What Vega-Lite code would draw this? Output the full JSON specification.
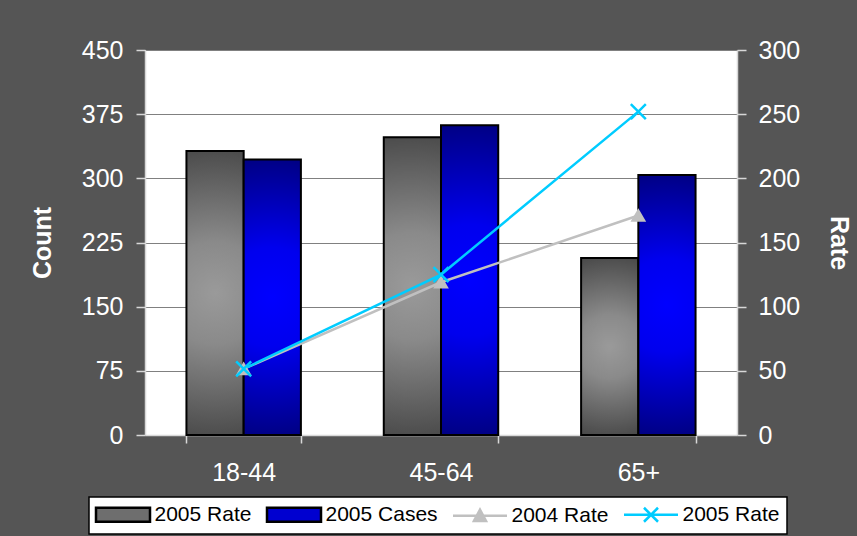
{
  "$schema": "https://vega.github.io/schema/vega-lite/v6.json",
  "width": 592,
  "height": 385,
  "autosize": {"type": "none"},
  "padding": {"left": 145, "top": 50, "right": 120, "bottom": 101},
  "background": "#555555",
  "config": {
    "view": {"stroke": null, "fill": "white"},
    "font": "Liberation Sans",
    "axis": {
      "labelColor": "white",
      "labelFontSize": 25,
      "labelFont": "Liberation Sans",
      "titleColor": "white",
      "titleFontSize": 25,
      "titleFont": "Liberation Sans",
      "titleFontWeight": "bold",
      "domainColor": "#d8d8d8",
      "domainWidth": 1.5,
      "tickColor": "#d8d8d8",
      "tickWidth": 1.5,
      "tickSize": 9
    },
    "legend": {
      "orient": "none",
      "legendX": -56,
      "legendY": 447,
      "direction": "horizontal",
      "columns": 4,
      "fillColor": "white",
      "strokeColor": "black",
      "padding": 7,
      "symbolSize": 196,
      "symbolStrokeWidth": 2.5,
      "symbolOffset": 16.5,
      "labelFont": "Liberation Sans",
      "labelFontSize": 21,
      "labelColor": "black",
      "labelOffset": 21,
      "columnPadding": 10
    }
  },
  "data": {
    "values": [
      {"age": "18-44", "series": "A", "count": 332},
      {"age": "18-44", "series": "B", "count": 322},
      {"age": "45-64", "series": "A", "count": 348},
      {"age": "45-64", "series": "B", "count": 362},
      {"age": "65+", "series": "A", "count": 207},
      {"age": "65+", "series": "B", "count": 304},
      {"age": "18-44", "series": "C", "rate": 51.5},
      {"age": "45-64", "series": "C", "rate": 119},
      {"age": "65+", "series": "C", "rate": 171},
      {"age": "18-44", "series": "D", "rate": 51.5},
      {"age": "45-64", "series": "D", "rate": 125},
      {"age": "65+", "series": "D", "rate": 252}
    ]
  },
  "encoding": {
    "x": {
      "field": "age",
      "type": "nominal",
      "sort": ["18-44", "45-64", "65+"],
      "scale": {"paddingInner": 0.42, "paddingOuter": 0.21},
      "axis": {"title": null, "labelAngle": 0, "tickBand": "extent", "labelPadding": 17, "tickSize": 8}
    }
  },
  "layer": [
    {
      "encoding": {
        "xOffset": {"field": "series", "type": "nominal", "scale": {"domain": ["A", "B"], "paddingInner": 0, "paddingOuter": 0}},
        "y": {
          "field": "count",
          "type": "quantitative",
          "scale": {"domain": [0, 450]},
          "axis": {
            "title": "Count",
            "values": [0, 75, 150, 225, 300, 375, 450],
            "grid": true,
            "gridColor": "#808080",
            "gridWidth": 1.2,
            "labelPadding": 13,
            "titlePadding": 26
          }
        }
      },
      "layer": [
        {
          "transform": [{"filter": "datum.series == 'A'"}],
          "mark": {
            "type": "bar", "stroke": "black", "strokeWidth": 2,
            "color": {"gradient": "radial", "x1": 0.5, "y1": 0.5, "x2": 0.5, "y2": 0.5, "r1": 0, "r2": 0.6,
              "stops": [{"offset": 0, "color": "#9a9a9a"}, {"offset": 0.3, "color": "#8a8a8a"}, {"offset": 1, "color": "#3a3a3a"}]}
          }
        },
        {
          "transform": [{"filter": "datum.series == 'B'"}],
          "mark": {
            "type": "bar", "stroke": "black", "strokeWidth": 2,
            "color": {"gradient": "radial", "x1": 0.5, "y1": 0.5, "x2": 0.5, "y2": 0.5, "r1": 0, "r2": 0.6,
              "stops": [{"offset": 0, "color": "#0000ff"}, {"offset": 0.3, "color": "#0000ee"}, {"offset": 1, "color": "#000066"}]}
          }
        }
      ]
    },
    {
      "transform": [{"filter": "datum.series == 'C' || datum.series == 'D'"}],
      "encoding": {
        "y": {
          "field": "rate",
          "type": "quantitative",
          "scale": {"domain": [0, 300]},
          "axis": {
            "orient": "right",
            "title": "Rate",
            "values": [0, 50, 100, 150, 200, 250, 300],
            "grid": false,
            "labelPadding": 12,
            "titlePadding": 26
          }
        },
        "color": {
          "field": "series",
          "type": "nominal",
          "scale": {"domain": ["A", "B", "C", "D"], "range": ["#6e6e6e", "#0000d0", "#c0c0c0", "#00ccff"]},
          "legend": {
            "title": null,
            "labelExpr": "{'A': '2005 Rate', 'B': '2005 Cases', 'C': '2004 Rate', 'D': '2005 Rate'}[datum.value]",
            "encode": {
              "legend": {"update": {"strokeWidth": {"value": 1.5}}},
              "symbols": {
                "update": {
                  "shape": {"signal": "datum.value == 'C' ? 'M-3.857,0H3.857M-0.86,0.75L0,-0.85L0.86,0.75Z' : datum.value == 'D' ? 'M-3.857,0H3.857M-1,-1L1,1M-1,1L1,-1' : 'M-3.857,-1H3.857V1H-3.857Z'"},
                  "opacity": {"value": 1},
                  "fillOpacity": {"value": 1},
                  "strokeOpacity": {"value": 1}
                }
              }
            }
          }
        },
        "stroke": {
          "field": "series",
          "type": "nominal",
          "scale": {"domain": ["A", "B", "C", "D"], "range": ["black", "black", "#c0c0c0", "#00ccff"]},
          "legend": {
            "title": null,
            "labelExpr": "{'A': '2005 Rate', 'B': '2005 Cases', 'C': '2004 Rate', 'D': '2005 Rate'}[datum.value]",
            "encode": {
              "legend": {"update": {"strokeWidth": {"value": 1.5}}},
              "symbols": {
                "update": {
                  "shape": {"signal": "datum.value == 'C' ? 'M-3.857,0H3.857M-0.86,0.75L0,-0.85L0.86,0.75Z' : datum.value == 'D' ? 'M-3.857,0H3.857M-1,-1L1,1M-1,1L1,-1' : 'M-3.857,-1H3.857V1H-3.857Z'"},
                  "opacity": {"value": 1},
                  "fillOpacity": {"value": 1},
                  "strokeOpacity": {"value": 1}
                }
              }
            }
          }
        }
      },
      "layer": [
        {"mark": {"type": "line", "strokeWidth": 2.5}},
        {
          "transform": [{"filter": "datum.series == 'C'"}],
          "mark": {"type": "point", "shape": "triangle-up", "filled": true, "size": 150, "opacity": 1}
        },
        {
          "transform": [{"filter": "datum.series == 'D'"}],
          "mark": {"type": "point", "shape": "M-1,-1L1,1M-1,1L1,-1", "filled": false, "size": 225, "strokeWidth": 2.5, "opacity": 1}
        }
      ]
    }
  ],
  "resolve": {"scale": {"y": "independent"}}
}
